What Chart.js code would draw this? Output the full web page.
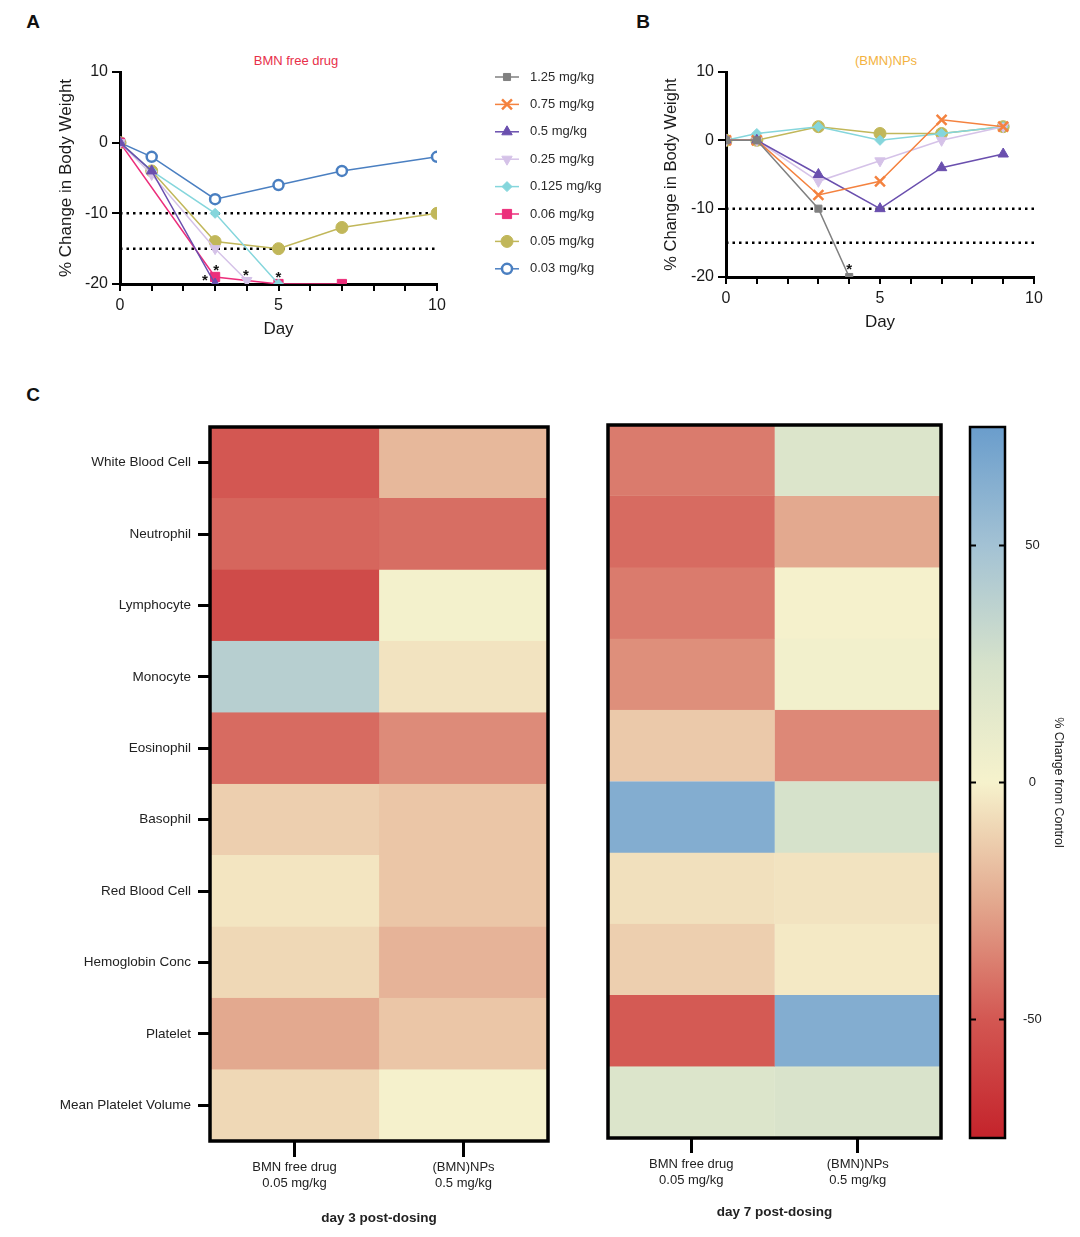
<!DOCTYPE html>
<html>
<head>
<meta charset="utf-8">
<script src="https://cdn.jsdelivr.net/npm/chart.js@4.4.1/dist/chart.umd.min.js"></script>
<style>
  body { margin: 0; background: #fff; font-family: "Liberation Sans", Arial, sans-serif; }
  #page { position: relative; width: 1080px; height: 1237px; overflow: hidden; }
  canvas { position: absolute; }
  .txt { position: absolute; transform: translate(-50%, -50%); white-space: nowrap; }
  .panel { font-weight: bold; font-size: 19px; color: #111; }
  .ttl { font-size: 13px; }
</style>
</head>
<body>
<div id="page">
  <div class="txt panel" style="left:33px;top:22px">A</div>
  <div class="txt panel" style="left:643px;top:22px">B</div>
  <div class="txt panel" style="left:33px;top:395px">C</div>
  <div class="txt ttl" style="left:296px;top:60px;color:#e8304a">BMN free drug</div>
  <div class="txt ttl" style="left:886px;top:60px;color:#f3b23f">(BMN)NPs</div>

  <canvas id="chartA" width="600" height="310" style="left:30px;top:44px"></canvas>
  <canvas id="chartB" width="420" height="303" style="left:640px;top:44px"></canvas>
  <canvas id="heat3" width="520" height="815" style="left:40px;top:415px"></canvas>
  <canvas id="heat7" width="350" height="809" style="left:600px;top:415px"></canvas>
  <canvas id="colorbar" width="110" height="735" style="left:960px;top:415px"></canvas>
</div>
<script>
// ---- body weight data ----
const doses = ['1.25 mg/kg', '0.75 mg/kg', '0.5 mg/kg', '0.25 mg/kg', '0.125 mg/kg', '0.06 mg/kg', '0.05 mg/kg', '0.03 mg/kg'];
const doseColors = ['#808080', '#f4823f', '#6a4fae', '#d5c2e8', '#85d6dc', '#ec2e7b', '#c1b75a', '#4a7fc1'];
const refLevels = [-10, -15];

// A: BMN free drug (1.25 and 0.75 mg/kg not dosed)
const freeDays125 = [], freeVal125 = [];
const freeDays075 = [], freeVal075 = [];
const freeDays05 = [0, 1, 3], freeVal05 = [0, -4, -20];
const freeDays025 = [0, 1, 3, 4], freeVal025 = [0, -4.5, -15, -19.5];
const freeDays0125 = [0, 1, 3, 5], freeVal0125 = [0, -4, -10, -20];
const freeDays006 = [0, 3, 5, 7], freeVal006 = [0, -19, -20, -20];
const freeDays005 = [0, 1, 3, 5, 7, 10], freeVal005 = [0, -4, -14, -15, -12, -10];
const freeDays003 = [0, 1, 3, 5, 7, 10], freeVal003 = [0, -2, -8, -6, -4, -2];
const freeStarX = [2.68, 3.03, 3.97, 5.0];
const freeStarY = [-19.6, -18.2, -18.8, -19.1];

// B: (BMN)NPs
const npDays = [0, 1, 3, 5, 7, 9];
const npDays125 = [0, 1, 3, 4], npVal125 = [0, 0, -10, -20];
const npVal075 = [0, 0, -8, -6, 3, 2];
const npVal05 = [0, 0, -5, -10, -4, -2];
const npVal025 = [0, 0, -6, -3, 0, 2];
const npVal0125 = [0, 1, 2, 0, 1, 2];
const npVal005 = [0, 0, 2, 1, 1, 2];
const npStarX = [4.0];
const npStarY = [-19.0];

// ---- haematology heatmap data (% change from control) ----
const bloodParams = ['White Blood Cell', 'Neutrophil', 'Lymphocyte', 'Monocyte', 'Eosinophil', 'Basophil',
  'Red Blood Cell', 'Hemoglobin Conc', 'Platelet', 'Mean Platelet Volume'];
const groupLabels = [['BMN free drug', '0.05 mg/kg'], ['(BMN)NPs', '0.5 mg/kg']];
const day3Free = [-50, -45.5, -56, 40, -44, -12, -4.5, -9, -25, -9];
const day3NPs = [-20, -43, 2, -5, -34, -15, -15, -21.5, -15, 1];
const day7Free = [-39, -44, -39, -33, -14, 64, -6, -12, -49, 20];
const day7NPs = [20, -25, 1, 3, -35, 25, -5, -3, 64, 23];

// colour scale
const scaleStops = [-75, -50, -25, 0, 25, 50, 75];
const scaleColors = ['#c4232b', '#d35752', '#e3a98f', '#f6f2cc', '#d6e2cb', '#a3c2d4', '#6a9dcc'];
const colorTicks = [-50, 0, 50];

const markers = [
  { style: 'rect', r: 5 },
  { style: 'crossRot', r: 7, bw: 2.5 },
  { style: 'triangle', r: 6 },
  { style: 'triangle', r: 6, rot: 180 },
  { style: 'rectRot', r: 5 },
  { style: 'rect', r: 6.5 },
  { style: 'circle', r: 6 },
  { style: 'circle', r: 5, open: true, bw: 2.5 }
];

function hexRgb(h) {
  return [1, 3, 5].map(i => parseInt(h.slice(i, i + 2), 16));
}

function heatColor(v) {
  let i = 0;
  while (i < scaleStops.length - 2 && v > scaleStops[i + 1]) i++;
  const t = Math.min(1, Math.max(0, (v - scaleStops[i]) / (scaleStops[i + 1] - scaleStops[i])));
  const a = hexRgb(scaleColors[i]), b = hexRgb(scaleColors[i + 1]);
  const c = a.map((x, k) => Math.round(x + (b[k] - x) * t));
  return `rgb(${c[0]},${c[1]},${c[2]})`;
}

function series(i, days, vals) {
  const m = markers[i];
  const c = doseColors[i];
  return {
    label: doses[i],
    data: days.map((d, j) => ({ x: d, y: vals[j] })),
    borderColor: c,
    backgroundColor: c,
    borderWidth: 1.5,
    pointStyle: m.style,
    pointRadius: m.r,
    pointHoverRadius: m.r,
    pointRotation: m.rot || 0,
    pointBackgroundColor: m.open ? '#fff' : c,
    pointBorderColor: c,
    pointBorderWidth: m.bw || 1,
    inKey: true
  };
}

function refLines() {
  return refLevels.map(v => ({
    label: '',
    data: [{ x: 0, y: v }, { x: 10, y: v }],
    borderColor: '#000',
    borderWidth: 2.5,
    borderDash: [2.5, 4],
    pointRadius: 0,
    order: 10
  }));
}

// asterisks for significance, placed through the scales
const starPlugin = {
  id: 'stars',
  afterDatasetsDraw(chart, args, opts) {
    const { ctx, scales: { x, y } } = chart;
    ctx.save();
    ctx.fillStyle = '#111';
    ctx.font = 'bold 15px "Liberation Sans", Arial';
    ctx.textAlign = 'center';
    ctx.textBaseline = 'middle';
    opts.xs.forEach((v, i) => ctx.fillText('*', x.getPixelForValue(v), y.getPixelForValue(opts.ys[i])));
    ctx.restore();
  }
};

// line + marker key drawn to the right of panel A
const keyPlugin = {
  id: 'doseKey',
  afterDraw(chart, args, opts) {
    const { ctx, chartArea } = chart;
    const x0 = chartArea.right + opts.dx;
    let row = 0;
    chart.data.datasets.forEach(ds => {
      if (!ds.inKey) return;
      const y = chartArea.top + opts.dy + row * opts.step;
      row++;
      ctx.save();
      ctx.strokeStyle = ds.borderColor;
      ctx.lineWidth = 1.5;
      ctx.beginPath();
      ctx.moveTo(x0, y);
      ctx.lineTo(x0 + 24, y);
      ctx.stroke();
      ctx.fillStyle = ds.pointBackgroundColor;
      ctx.lineWidth = ds.pointBorderWidth;
      Chart.helpers.drawPoint(ctx, {
        pointStyle: ds.pointStyle, rotation: ds.pointRotation,
        radius: ds.pointRadius, borderWidth: ds.pointBorderWidth
      }, x0 + 12, y);
      ctx.fillStyle = '#2a2a2a';
      ctx.font = '13px "Liberation Sans", Arial';
      ctx.textBaseline = 'middle';
      ctx.fillText(ds.label, x0 + 35, y);
      ctx.restore();
    });
  }
};

const framePlugin = {
  id: 'frame',
  afterDatasetsDraw(chart, args, opts) {
    const { ctx, chartArea: a } = chart;
    ctx.save();
    ctx.strokeStyle = '#000';
    ctx.lineWidth = opts.width;
    ctx.strokeRect(a.left, a.top, a.right - a.left, a.bottom - a.top);
    if (opts.ticks) {
      const y = chart.scales.y;
      ctx.lineWidth = 2;
      opts.ticks.forEach(v => {
        const py = y.getPixelForValue(v);
        ctx.beginPath();
        ctx.moveTo(a.left, py); ctx.lineTo(a.left + 6, py);
        ctx.moveTo(a.right - 6, py); ctx.lineTo(a.right, py);
        ctx.stroke();
      });
    }
    ctx.restore();
  }
};

function weightChart(id, datasets, starX, starY, cfg) {
  return new Chart(document.getElementById(id), {
    type: 'line',
    data: { datasets },
    options: {
      responsive: false,
      animation: false,
      layout: { padding: cfg.padding },
      plugins: {
        legend: { display: false },
        tooltip: { enabled: false },
        stars: { xs: starX, ys: starY },
        doseKey: cfg.key || false
      },
      scales: {
        x: {
          type: 'linear', min: 0, max: 10,
          afterFit: s => { s.height = 60; },
          ticks: {
            stepSize: 1, autoSkip: false, maxRotation: 0, padding: 5,
            font: { size: 16 }, color: '#1a1a1a',
            callback: v => (v % 5 === 0 ? v : '')
          },
          grid: { drawOnChartArea: false, color: '#000', lineWidth: 2, tickLength: 7 },
          border: { color: '#000', width: 3 },
          title: { display: true, text: 'Day', font: { size: 17 }, color: '#1a1a1a', padding: { top: 4, bottom: 4 } }
        },
        y: {
          min: -20, max: 10,
          afterFit: s => { s.width = 68; },
          ticks: { stepSize: 10, padding: 4, font: { size: 16 }, color: '#1a1a1a' },
          grid: { drawOnChartArea: false, color: '#000', lineWidth: 2, tickLength: 8 },
          border: { color: '#000', width: 3 },
          title: { display: true, text: '% Change in Body Weight', font: { size: cfg.titleSize }, color: '#1a1a1a', padding: { top: 4, bottom: 4 } }
        }
      }
    },
    plugins: [starPlugin, keyPlugin]
  });
}

weightChart('chartA', [
  series(0, freeDays125, freeVal125),
  series(1, freeDays075, freeVal075),
  series(2, freeDays05, freeVal05),
  series(3, freeDays025, freeVal025),
  series(4, freeDays0125, freeVal0125),
  series(5, freeDays006, freeVal006),
  series(6, freeDays005, freeVal005),
  series(7, freeDays003, freeVal003),
  ...refLines()
], freeStarX, freeStarY, {
  padding: { left: 22, right: 193, top: 28, bottom: 10 },
  titleSize: 17,
  key: { dx: 58, dy: 5, step: 27.4 }
});

weightChart('chartB', [
  series(0, npDays125, npVal125),
  series(1, npDays, npVal075),
  series(2, npDays, npVal05),
  series(3, npDays, npVal025),
  series(4, npDays, npVal0125),
  series(6, npDays, npVal005),
  ...refLines()
], npStarX, npStarY, {
  padding: { left: 18, right: 26, top: 28, bottom: 10 },
  titleSize: 16.5
});

function heatmap(id, free, nps, title, cfg) {
  return new Chart(document.getElementById(id), {
    type: 'bar',
    data: {
      labels: bloodParams,
      datasets: [free, nps].map((vals, c) => ({
        data: vals.map(() => [c, c + 1]),
        backgroundColor: vals.map(heatColor),
        borderColor: vals.map(heatColor),
        borderWidth: 0.8,
        borderSkipped: false,
        barPercentage: 1,
        categoryPercentage: 1,
        grouped: false
      }))
    },
    options: {
      indexAxis: 'y',
      responsive: false,
      animation: false,
      layout: { padding: cfg.padding },
      plugins: { legend: { display: false }, tooltip: { enabled: false }, frame: { width: 3.5 } },
      scales: {
        x: {
          type: 'linear', min: 0, max: 2,
          afterBuildTicks: s => { s.ticks = [{ value: 0.5 }, { value: 1.5 }]; },
          afterFit: s => { s.height = cfg.xHeight; },
          ticks: {
            autoSkip: false, maxRotation: 0, padding: cfg.labelPad,
            font: { size: 13 }, color: '#222',
            callback: (v, i) => groupLabels[i]
          },
          grid: { drawOnChartArea: false, color: '#000', lineWidth: 3, tickLength: cfg.tickLen },
          border: { display: false },
          title: { display: true, text: title, font: { size: 13.5, weight: 'bold' }, color: '#222', padding: { top: 4, bottom: 4 } }
        },
        y: {
          type: 'category',
          display: cfg.rows,
          afterFit: s => {
            s.width = cfg.rows ? 170 : 0;
            s.paddingTop = 0;
            s.paddingBottom = 0;
          },
          ticks: { padding: 7, font: { size: 13.5 }, color: '#222' },
          grid: { offset: false, drawOnChartArea: false, color: '#000', lineWidth: 3, tickLength: 12 },
          border: { display: false }
        }
      }
    },
    plugins: [framePlugin]
  });
}

heatmap('heat3', day3Free, day3NPs, 'day 3 post-dosing',
  { padding: { top: 12, right: 12, bottom: 0, left: 0 }, xHeight: 89, tickLen: 16, labelPad: 3, rows: true });
heatmap('heat7', day7Free, day7NPs, 'day 7 post-dosing',
  { padding: { top: 10, right: 9, bottom: 0, left: 8 }, xHeight: 86, tickLen: 15, labelPad: 4, rows: false });

// colour bar
const scaleMin = scaleStops[0], scaleMax = scaleStops[scaleStops.length - 1];
new Chart(document.getElementById('colorbar'), {
  type: 'bar',
  data: {
    labels: [''],
    datasets: [{
      data: [[scaleMin, scaleMax]],
      backgroundColor: c => {
        const chart = c.chart;
        if (!chart.chartArea) return scaleColors[3];
        const y = chart.scales.y;
        const g = chart.ctx.createLinearGradient(0, y.getPixelForValue(scaleMin), 0, y.getPixelForValue(scaleMax));
        scaleStops.forEach((v, i) => g.addColorStop((v - scaleMin) / (scaleMax - scaleMin), scaleColors[i]));
        return g;
      },
      borderWidth: 0,
      barPercentage: 1,
      categoryPercentage: 1
    }]
  },
  options: {
    responsive: false,
    animation: false,
    layout: { padding: { top: 12, left: 10, bottom: 12, right: 0 } },
    plugins: { legend: { display: false }, tooltip: { enabled: false }, frame: { width: 2.5, ticks: colorTicks } },
    scales: {
      x: { display: false },
      y: {
        position: 'right', min: scaleMin, max: scaleMax,
        afterBuildTicks: s => { s.ticks = colorTicks.map(v => ({ value: v })); },
        afterFit: s => {
          s.width = 65;
          s.paddingTop = 0;
          s.paddingBottom = 0;
        },
        grid: { display: false, drawTicks: false },
        border: { display: false },
        ticks: { padding: 18, crossAlign: 'center', font: { size: 13 }, color: '#222' },
        title: { display: true, text: '% Change from Control', font: { size: 12.5 }, color: '#222', padding: { top: 4, bottom: 4 } }
      }
    }
  },
  plugins: [framePlugin]
});
</script>
</body>
</html>
